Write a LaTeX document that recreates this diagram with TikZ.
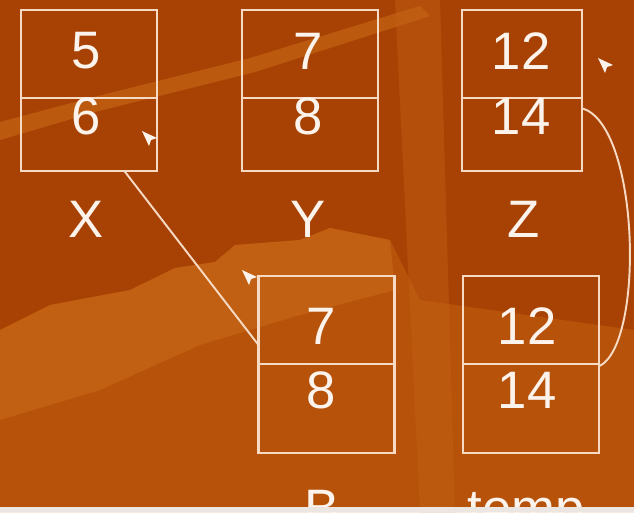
\documentclass[tikz,border=0pt]{standalone}
\usepackage{fontspec}
\setmainfont{Liberation Sans}
\usetikzlibrary{calc}
\definecolor{bgdark}{RGB}{168,66,4}
\definecolor{bgmid}{RGB}{182,82,10}
\definecolor{bglight}{RGB}{196,100,20}
\definecolor{boxc}{RGB}{246,218,196}
\definecolor{txtc}{RGB}{252,244,236}
\definecolor{stripc}{RGB}{236,230,226}
\begin{document}
\begin{tikzpicture}[x=0.02cm,y=-0.02cm,
  box/.style={draw=boxc, line width=1.6pt, inner sep=0pt, outer sep=0pt,
              minimum width=2.72cm, minimum height=3.22cm},
  lowbox/.style={box, minimum height=3.54cm},
  boxline/.style={draw=boxc, line width=1.6pt},
  num/.style={text=txtc, font=\fontsize{30}{34}\selectfont, inner sep=0pt},
  link/.style={draw=boxc, line width=1.1pt},
  tipmark/.pic={\fill[txtc] (0,0) -- (15,7) -- (9,9) -- (7,15) -- cycle;}]
\useasboundingbox (0,0) rectangle (634,512);
\clip (0,0) rectangle (634,512);
% background
\fill[bgdark] (0,0) rectangle (634,512);
\fill[bgmid] (0,330) -- (50,305) -- (130,290) -- (175,268) -- (215,262) -- (235,245)
  -- (300,240) -- (330,228) -- (390,240) -- (420,300) -- (634,330) -- (634,512) -- (0,512) -- cycle;
\fill[bglight, opacity=0.8] (0,330) -- (50,305) -- (130,290) -- (175,268) -- (215,262) -- (235,245)
  -- (300,240) -- (330,228) -- (390,240) -- (395,290) -- (300,315) -- (200,345) -- (100,390) -- (0,420) -- cycle;
\fill[bglight, opacity=0.7] (0,122) -- (90,98) -- (250,58) -- (420,6) -- (430,16) -- (255,72) -- (95,112) -- (0,140) -- cycle;
\fill[bglight, opacity=0.4] (395,0) -- (440,0) -- (455,512) -- (420,512) -- cycle;
% boxes
\node[box] (X) at (89,90.5) {};
\node[box] (Y) at (310,90.5) {};
\node[box, minimum width=2.4cm] (Z) at (522,90.5) {};
\node[lowbox] (B) at (326.5,364.5) {};
\node[lowbox] (T) at (531,364.5) {};
\foreach \n/\f in {X/0.547,Y/0.547,Z/0.547,B/0.497,T/0.497}
  \draw[boxline] ($(\n.north west)!\f!(\n.south west)$) -- ($(\n.north east)!\f!(\n.south east)$);
% numbers
\node[num] (x1) at (86,51) {5};
\node[num] (x2) at (86,116) {6};
\node[num] (y1) at (308,51) {7};
\node[num] (y2) at (308,116) {8};
\node[num] (z1) at (521,51) {12};
\node[num] (z2) at (521,116) {14};
\node[num] (b1) at (321,326) {7};
\node[num] (b2) at (321,390) {8};
\node[num] (t1) at (527,326) {12};
\node[num] (t2) at (527,390) {14};
% labels
\node[num] (lx) at (86,219) {X};
\node[num] (ly) at (308,219) {Y};
\node[num] (lz) at (524,219) {Z};
\node[num, anchor=base] (lb) at (322,526) {B};
\node[num, anchor=base] (lt) at (526,526) {temp};
% connectors
\draw[link] ($(X.south west)!0.76!(X.south east)$) -- ($(B.north west)!0.39!(B.south west)$);
\draw[link] ($(Z.north east)!0.61!(Z.south east)$) .. controls (640,125) and (645,345) .. ($(T.north east)!0.51!(T.south east)$);
% stray arrow tips
\pic at (142,131) {tipmark};
\pic at (242,270) {tipmark};
\pic at (598,58) {tipmark};
% bottom strip
\fill[stripc] (0,507) rectangle (634,512);
\end{tikzpicture}
\end{document}
